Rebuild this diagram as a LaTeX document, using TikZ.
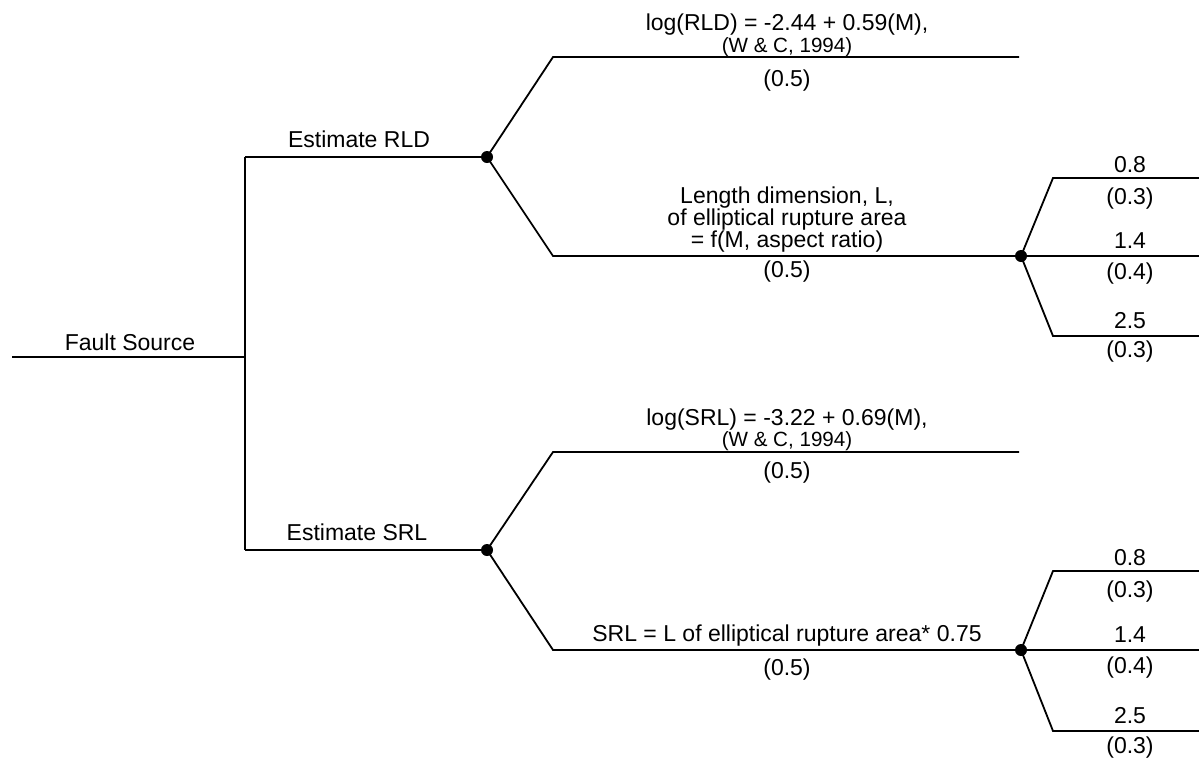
\documentclass[tikz,border=0pt]{standalone}
\usepackage{fontspec}
\setmainfont{Liberation Sans}

\begin{document}
\begin{tikzpicture}[x=0.5pt, y=-0.5pt,
    branch/.style={line width=0.9pt},
    chance/.style={circle, fill, inner sep=0pt, minimum size=6pt},
    lbl/.style={font=\fontsize{11.5}{11}\selectfont, inner sep=0pt, align=center},
    cite/.style={font=\fontsize{10.3}{11}\selectfont, inner sep=0pt}]
  \useasboundingbox (0,0) rectangle (1199,762);

  % Root and the two estimation methods.
  \coordinate (src) at (12,357);
  \coordinate (root) at (245,357);
  \coordinate (rld) at (245,157);
  \coordinate (srl) at (245,550);
  \node[chance] (rld node) at (487,157) {};
  \node[chance] (srl node) at (487,550) {};
  \draw[branch] (src) -- (root);
  \draw[branch] (rld) -- (srl);
  \draw[branch] (rld) -- (rld node.center);
  \draw[branch] (srl) -- (srl node.center);
  \node[lbl, anchor=base] (fs lbl) at (130,350) {Fault Source};
  \node[lbl, anchor=base] (rld lbl) at (359,147) {Estimate RLD};
  \node[lbl, anchor=base] (srl lbl) at (357,540) {Estimate SRL};

  % RLD branches.
  \coordinate (rld a) at (553,57);
  \coordinate (rld a end) at (1019,57);
  \coordinate (rld b) at (553,256);
  \node[chance] (len node) at (1021,256) {};
  \draw[branch] (rld node.center) -- (rld a) -- (rld a end);
  \draw[branch] (rld node.center) -- (rld b) -- (len node.center);
  \node[lbl, anchor=base] (rld eq) at (787,30) {log(RLD) = -2.44 + 0.59(M),};
  \node[cite, anchor=base] (rld ref) at (787,52) {(W \& C, 1994)};
  \node[lbl, anchor=base] (rld pa) at (787,86) {(0.5)};
  \node[lbl, anchor=south] (len eq) at (787,253) {Length dimension, L,\\of elliptical rupture area\\= f(M, aspect ratio)};
  \node[lbl, anchor=base] (rld pb) at (787,277) {(0.5)};

  % Aspect ratio fan after the length estimate.
  \coordinate (len a) at (1053,178);
  \coordinate (len a end) at (1199,178);
  \coordinate (len b end) at (1199,256);
  \coordinate (len c) at (1053,336);
  \coordinate (len c end) at (1199,336);
  \draw[branch] (len node.center) -- (len a) -- (len a end);
  \draw[branch] (len node.center) -- (len b end);
  \draw[branch] (len node.center) -- (len c) -- (len c end);
  \node[lbl, anchor=base] (len va) at (1130,172) {0.8};
  \node[lbl, anchor=base] (len pa) at (1130,204) {(0.3)};
  \node[lbl, anchor=base] (len vb) at (1130,248) {1.4};
  \node[lbl, anchor=base] (len pb) at (1130,279) {(0.4)};
  \node[lbl, anchor=base] (len vc) at (1130,328) {2.5};
  \node[lbl, anchor=base] (len pc) at (1130,357) {(0.3)};

  % SRL branches.
  \coordinate (srl a) at (553,452);
  \coordinate (srl a end) at (1019,452);
  \coordinate (srl b) at (553,650);
  \node[chance] (ell node) at (1021,650) {};
  \draw[branch] (srl node.center) -- (srl a) -- (srl a end);
  \draw[branch] (srl node.center) -- (srl b) -- (ell node.center);
  \node[lbl, anchor=base] (srl eq) at (787,425) {log(SRL) = -3.22 + 0.69(M),};
  \node[cite, anchor=base] (srl ref) at (787,446) {(W \& C, 1994)};
  \node[lbl, anchor=base] (srl pa) at (787,478) {(0.5)};
  \node[lbl, anchor=base] (ell eq) at (787,641) {SRL = L of elliptical rupture area* 0.75};
  \node[lbl, anchor=base] (srl pb) at (787,675) {(0.5)};

  % Aspect ratio fan after the SRL estimate.
  \coordinate (ell a) at (1053,571);
  \coordinate (ell a end) at (1199,571);
  \coordinate (ell b end) at (1199,650);
  \coordinate (ell c) at (1053,731);
  \coordinate (ell c end) at (1199,731);
  \draw[branch] (ell node.center) -- (ell a) -- (ell a end);
  \draw[branch] (ell node.center) -- (ell b end);
  \draw[branch] (ell node.center) -- (ell c) -- (ell c end);
  \node[lbl, anchor=base] (ell va) at (1130,565) {0.8};
  \node[lbl, anchor=base] (ell pa) at (1130,597) {(0.3)};
  \node[lbl, anchor=base] (ell vb) at (1130,642) {1.4};
  \node[lbl, anchor=base] (ell pb) at (1130,673) {(0.4)};
  \node[lbl, anchor=base] (ell vc) at (1130,723) {2.5};
  \node[lbl, anchor=base] (ell pc) at (1130,753) {(0.3)};
\end{tikzpicture}
\end{document}
